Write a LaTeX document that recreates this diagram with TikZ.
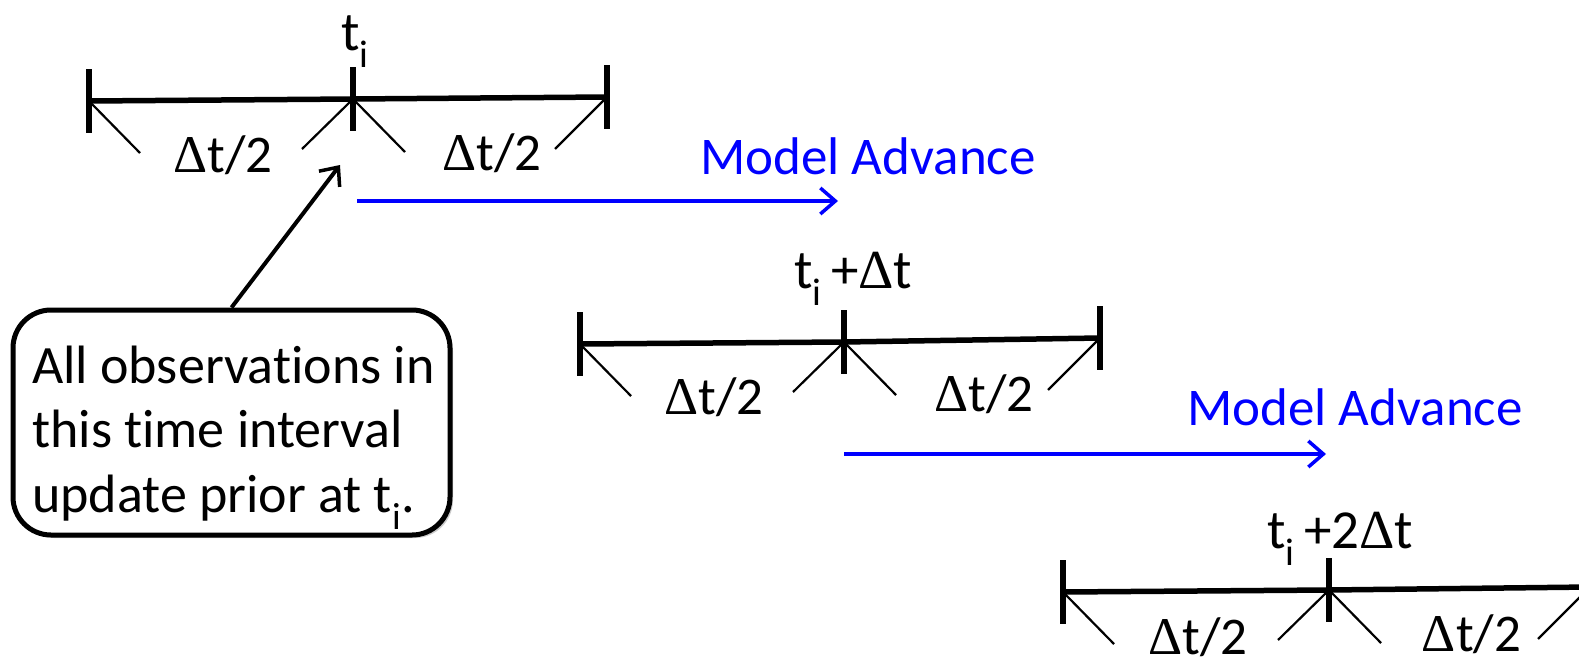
\documentclass[tikz,border=0pt]{standalone}
\usepackage{fontspec}
\setmainfont{Carlito}[Ligatures=CommonOff]
\newfontfamily\deltafont{Liberation Serif}
\newcommand\dlt{{\deltafont Δ}}
\usetikzlibrary{arrows.meta,calc,shadows}
\tikzset{
  bigtext/.style={font=\fontsize{53}{64}\selectfont, inner sep=0pt},
  timetext/.style={font=\fontsize{55}{64}\selectfont, inner sep=0pt, anchor=base west},
  axisline/.style={line width=5.5pt, line cap=butt},
  tickline/.style={line width=5.5pt},
  diagline/.style={line width=2.2pt},
  advarrow/.style={draw=blue, line width=4pt, -{Straight Barb[length=15pt,width=26pt,line width=3.5pt]}},
  obsarrow/.style={draw=black, line width=4pt, -{Straight Barb[length=15pt,width=26pt,line width=3.5pt]}},
  bluetext/.style={bigtext, text=blue},
  calloutbox/.style={draw=black, line width=5pt, rounded corners=38pt, fill=white,
    minimum width=437pt, minimum height=225pt, inner sep=0pt,
    drop shadow={shadow xshift=3pt, shadow yshift=-3pt, fill=black!45, opacity=0.45}},
}
% #1 prefix, #2-#7 left/mid/right points, #8 label offset below the line
\newcommand\tline[8]{%
  \coordinate (#1L) at (#2,#3);
  \coordinate (#1M) at (#4,#5);
  \coordinate (#1R) at (#6,#7);
  \draw[axisline] (#1L) -- (#1M) -- (#1R);
  \foreach \p in {L,M,R} \draw[tickline] ($(#1\p)+(0,-32)$) -- ($(#1\p)+(0,32)$);
  \draw[diagline] (#1L) -- ++(51,52);
  \draw[diagline] (#1M) -- ++(-51,50);
  \draw[diagline] (#1M) -- ++(52,53);
  \draw[diagline] (#1R) -- ++(-52,52);
  \node[bigtext] (#1a) at ($(#1L)!0.5!(#1M)+(2,#8)$) {\dlt t/2};
  \node[bigtext] (#1b) at ($(#1M)!0.5!(#1R)+(12,#8)$) {\dlt t/2};
}
\begin{document}
\begin{tikzpicture}[x=1pt,y=-1pt]
\useasboundingbox (0,0) rectangle (1579,667);
\clip (0,0) rectangle (1579,667);

% timelines
\tline{A}{89}{101}{353}{99}{607}{97}{55}
\tline{B}{580}{344}{844}{342}{1100}{338}{54}
\tline{C}{1063}{592}{1329}{590}{1590}{587}{46}

% time labels
\node[timetext] (tA) at (341,50) {t\textsubscript{i}};
\node[timetext] (tB) at (794,288) {t\textsubscript{i}\,+\dlt t};
\node[timetext] (tC) at (1267,548) {t\textsubscript{i}\,+2\dlt t};

% model advance
\node[bluetext] (ma1) at (868,156) {Model Advance};
\node[bluetext] (ma2) at (1355,407) {Model Advance};
\coordinate (a1s) at (357,201);
\coordinate (a1e) at (838,201);
\coordinate (a2s) at (844,454);
\coordinate (a2e) at (1326,454);
\draw[advarrow] (a1s) -- (a1e);
\draw[advarrow] (a2s) -- (a2e);

% callout
\node[calloutbox] (callout) at (231.5,422.5) {};
\node[bigtext, font=\fontsize{54}{64.5}\selectfont, anchor=base west] (ctext) at (32,383)
  {\begin{tabular}[t]{@{}l@{}}All observations in\\this time interval\\update prior at t\textsubscript{i}.\end{tabular}};
\coordinate (obs) at (340,165);
\draw[obsarrow] (callout.north) -- (obs);
\end{tikzpicture}
\end{document}
